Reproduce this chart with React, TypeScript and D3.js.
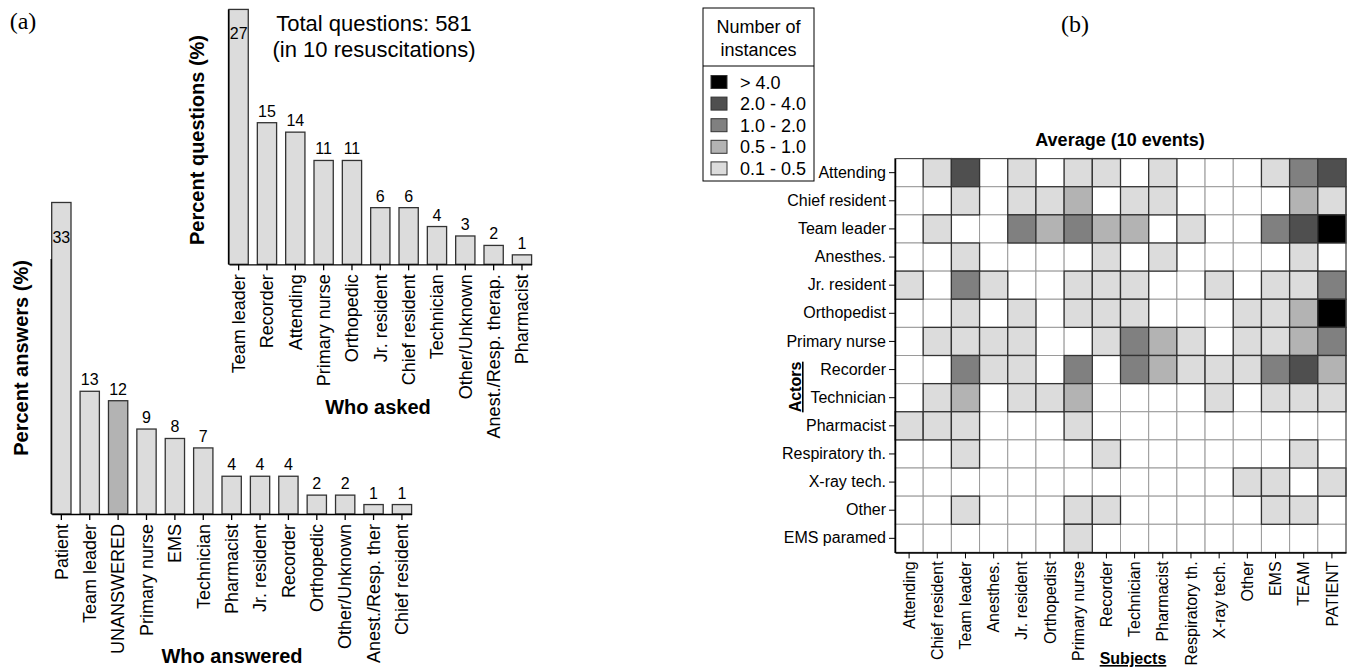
import React, { useEffect, useRef } from 'react';
import * as d3 from 'd3';

// Panel (a), lower chart: who answered
const answeredLabels = ['Patient', 'Team leader', 'UNANSWERED', 'Primary nurse', 'EMS', 'Technician', 'Pharmacist', 'Jr. resident', 'Recorder', 'Orthopedic', 'Other/Unknown', 'Anest./Resp. ther', 'Chief resident'];
const answeredValues = [33, 13, 12, 9, 8, 7, 4, 4, 4, 2, 2, 1, 1];

// Panel (a), upper chart: who asked
const askedLabels = ['Team leader', 'Recorder', 'Attending', 'Primary nurse', 'Orthopedic', 'Jr. resident', 'Chief resident', 'Technician', 'Other/Unknown', 'Anest./Resp. therap.', 'Pharmacist'];
const askedValues = [27, 15, 14, 11, 11, 6, 6, 4, 3, 2, 1];

// Panel (b): heatmap
const actors = ['Attending', 'Chief resident', 'Team leader', 'Anesthes.', 'Jr. resident', 'Orthopedist', 'Primary nurse', 'Recorder', 'Technician', 'Pharmacist', 'Respiratory th.', 'X-ray tech.', 'Other', 'EMS paramed'];
const subjects = ['Attending', 'Chief resident', 'Team leader', 'Anesthes.', 'Jr. resident', 'Orthopedist', 'Primary nurse', 'Recorder', 'Technician', 'Pharmacist', 'Respiratory th.', 'X-ray tech.', 'Other', 'EMS', 'TEAM', 'PATIENT'];
// bin index: 0 none, 1 = 0.1-0.5, 2 = 0.5-1.0, 3 = 1.0-2.0, 4 = 2.0-4.0, 5 = > 4.0
const heatBins = [
  [0, 1, 4, 0, 1, 0, 1, 1, 0, 1, 0, 0, 0, 1, 3, 4],
  [0, 0, 1, 0, 1, 1, 2, 0, 1, 1, 0, 0, 0, 0, 2, 1],
  [0, 1, 0, 0, 3, 2, 3, 2, 2, 0, 1, 0, 0, 3, 4, 5],
  [0, 0, 1, 0, 0, 0, 0, 1, 0, 1, 0, 0, 0, 0, 1, 0],
  [1, 0, 3, 1, 0, 0, 1, 1, 1, 0, 0, 1, 0, 1, 1, 3],
  [0, 0, 1, 0, 1, 0, 1, 1, 1, 0, 0, 0, 1, 1, 2, 5],
  [0, 1, 1, 1, 1, 0, 0, 1, 3, 2, 1, 0, 1, 1, 2, 3],
  [0, 0, 3, 1, 1, 0, 3, 0, 3, 2, 1, 1, 1, 3, 4, 2],
  [0, 1, 2, 0, 1, 1, 2, 0, 0, 0, 0, 1, 0, 1, 1, 1],
  [1, 1, 1, 0, 0, 0, 1, 0, 0, 0, 0, 0, 0, 0, 0, 0],
  [0, 0, 1, 0, 0, 0, 0, 1, 0, 0, 0, 0, 0, 0, 1, 0],
  [0, 0, 0, 0, 0, 0, 0, 0, 0, 0, 0, 0, 1, 1, 0, 1],
  [0, 0, 1, 0, 0, 0, 1, 1, 0, 0, 0, 0, 0, 1, 1, 0],
  [0, 0, 0, 0, 0, 0, 1, 0, 0, 0, 0, 0, 0, 0, 0, 0],
];
const legendBins = [5, 4, 3, 2, 1];
const legendLabels = ['> 4.0', '2.0 - 4.0', '1.0 - 2.0', '0.5 - 1.0', '0.1 - 0.5'];

const SANS = "'Liberation Sans', Arial, sans-serif";
const SERIF = "'Liberation Serif', 'Times New Roman', serif";

function drawBars(svg, labels, values, opts) {
  const x = d3.scaleBand().domain(labels).range([opts.x0, opts.x1]).paddingInner(0.32).paddingOuter(0);
  const y = d3.scaleLinear().domain([0, 27]).range([opts.base, opts.base - 27 * 9.44]);
  const data = labels.map((l, i) => ({ label: l, value: values[i] }));
  const g = svg.append('g');

  g.selectAll('rect.bar')
    .data(data)
    .enter()
    .append('rect')
    .attr('x', (d) => x(d.label))
    .attr('y', (d) => y(d.value))
    .attr('width', x.bandwidth())
    .attr('height', (d) => opts.base - y(d.value))
    .attr('fill', (d) => (d.label === 'UNANSWERED' ? '#b3b3b3' : '#dcdcdc'))
    .attr('stroke', '#333')
    .attr('stroke-width', 1.3);

  // y axis line (no ticks)
  g.append('line')
    .attr('x1', opts.x0 - 0.5)
    .attr('x2', opts.x0 - 0.5)
    .attr('y1', y(0))
    .attr('y2', y(27))
    .attr('stroke', '#000')
    .attr('stroke-width', 1.3);

  const ax = g.append('g')
    .attr('transform', `translate(0,${opts.base})`)
    .call(d3.axisBottom(x).tickSize(6).tickSizeOuter(0));
  ax.select('.domain').attr('stroke-width', 1.3);
  ax.selectAll('line').attr('stroke-width', 1.3);
  ax.selectAll('text')
    .attr('transform', 'rotate(-90)')
    .attr('x', -10)
    .attr('y', 0)
    .attr('dy', '0.35em')
    .style('text-anchor', 'end')
    .style('font-family', SANS)
    .style('font-size', '18px')
    .attr('fill', '#000');

  g.selectAll('text.val')
    .data(data)
    .enter()
    .append('text')
    .attr('x', (d) => x(d.label) + x.bandwidth() / 2)
    .attr('y', (d, i) => (i === 0 ? y(d.value) + opts.inside : y(d.value) - 6))
    .style('text-anchor', 'middle')
    .style('font-family', SANS)
    .style('font-size', '16px')
    .text((d) => d.value);

  svg.append('text')
    .attr('x', opts.xt)
    .attr('y', opts.yt)
    .style('text-anchor', 'middle')
    .style('font-family', SANS)
    .style('font-weight', 'bold')
    .style('font-size', '20px')
    .text(opts.xTitle);

  svg.append('text')
    .attr('transform', `translate(${opts.yx},${opts.yy}) rotate(-90)`)
    .style('text-anchor', 'middle')
    .style('font-family', SANS)
    .style('font-weight', 'bold')
    .style('font-size', '20px')
    .text(opts.yTitle);
}

function App() {
  const ref = useRef(null);

  useEffect(() => {
    const svg = d3.select(ref.current);
    svg.selectAll('*').remove();

    // Panel labels
    svg.append('text').attr('x', 23).attr('y', 29).style('text-anchor', 'middle')
      .style('font-family', SERIF).style('font-size', '24px').text('(a)');
    svg.append('text').attr('x', 1075).attr('y', 32).style('text-anchor', 'middle')
      .style('font-family', SERIF).style('font-size', '24px').text('(b)');

    drawBars(svg, answeredLabels, answeredValues, {
      x0: 51.7, x1: 411.6, base: 514, inside: 41,
      xTitle: 'Who answered', xt: 232, yt: 663,
      yTitle: 'Percent answers (%)', yx: 28, yy: 358,
    });

    drawBars(svg, askedLabels, askedValues, {
      x0: 229, x1: 531.6, base: 264.3, inside: 30,
      xTitle: 'Who asked', xt: 378, yt: 414,
      yTitle: 'Percent questions (%)', yx: 204, yy: 140,
    });

    svg.append('text').attr('x', 374).attr('y', 31).style('text-anchor', 'middle')
      .style('font-family', SANS).style('font-size', '22px').text('Total questions: 581');
    svg.append('text').attr('x', 374).attr('y', 57).style('text-anchor', 'middle')
      .style('font-family', SANS).style('font-size', '22px').text('(in 10 resuscitations)');

    // Heatmap
    const colors = ['#ffffff', '#dcdcdc', '#b3b3b3', '#808080', '#4f4f4f', '#000000'];
    const xH = d3.scaleBand().domain(subjects).range([895, 1346]);
    const yH = d3.scaleBand().domain(actors).range([158.6, 552.4]);
    const cells = [];
    actors.forEach((a, r) => subjects.forEach((s, c) => cells.push({ a, s, bin: heatBins[r][c] })));

    const hg = svg.append('g');
    hg.selectAll('rect.empty')
      .data(cells.filter((d) => d.bin === 0))
      .enter()
      .append('rect')
      .attr('x', (d) => xH(d.s))
      .attr('y', (d) => yH(d.a))
      .attr('width', xH.bandwidth())
      .attr('height', yH.bandwidth())
      .attr('fill', '#fff')
      .attr('stroke', '#9a9a9a')
      .attr('stroke-width', 1);
    hg.selectAll('rect.full')
      .data(cells.filter((d) => d.bin > 0))
      .enter()
      .append('rect')
      .attr('x', (d) => xH(d.s))
      .attr('y', (d) => yH(d.a))
      .attr('width', xH.bandwidth())
      .attr('height', yH.bandwidth())
      .attr('fill', (d) => colors[d.bin])
      .attr('stroke', '#333')
      .attr('stroke-width', 1.3);
    hg.append('rect')
      .attr('x', 895).attr('y', 158.6).attr('width', 451).attr('height', 393.8)
      .attr('fill', 'none').attr('stroke', '#444').attr('stroke-width', 1);

    const yAx = hg.append('g').attr('transform', 'translate(895,0)')
      .call(d3.axisLeft(yH).tickSize(6).tickSizeOuter(0));
    yAx.select('.domain').attr('stroke-width', 1.5);
    yAx.selectAll('text').style('font-family', SANS).style('font-size', '16px').attr('fill', '#000');

    const xAx = hg.append('g').attr('transform', 'translate(0,552.4)')
      .call(d3.axisBottom(xH).tickSize(6).tickSizeOuter(0));
    xAx.select('.domain').attr('stroke-width', 1.5);
    xAx.selectAll('text')
      .attr('transform', 'rotate(-90)')
      .attr('x', -9)
      .attr('y', 0)
      .attr('dy', '0.35em')
      .style('text-anchor', 'end')
      .style('font-family', SANS)
      .style('font-size', '16px')
      .attr('fill', '#000');

    svg.append('text').attr('x', 1120).attr('y', 146).style('text-anchor', 'middle')
      .style('font-family', SANS).style('font-weight', 'bold').style('font-size', '18px')
      .text('Average (10 events)');
    svg.append('text').attr('x', 1133).attr('y', 664).style('text-anchor', 'middle')
      .style('font-family', SANS).style('font-weight', 'bold').style('font-size', '16px')
      .style('text-decoration', 'underline').text('Subjects');
    svg.append('text').attr('transform', 'translate(801,387) rotate(-90)').style('text-anchor', 'middle')
      .style('font-family', SANS).style('font-weight', 'bold').style('font-size', '16px')
      .style('text-decoration', 'underline').text('Actors');

    // Legend
    const lg = svg.append('g');
    lg.append('rect').attr('x', 703).attr('y', 8).attr('width', 111).attr('height', 173)
      .attr('fill', '#fff').attr('stroke', '#000').attr('stroke-width', 1);
    lg.append('line').attr('x1', 703).attr('x2', 814).attr('y1', 66).attr('y2', 66)
      .attr('stroke', '#000').attr('stroke-width', 1);
    lg.append('text').attr('x', 758.5).attr('y', 33).style('text-anchor', 'middle')
      .style('font-family', SANS).style('font-size', '18px').text('Number of');
    lg.append('text').attr('x', 758.5).attr('y', 56).style('text-anchor', 'middle')
      .style('font-family', SANS).style('font-size', '18px').text('instances');
    legendBins.forEach((b, i) => {
      const cy = 82 + i * 21.6;
      lg.append('rect').attr('x', 711).attr('y', cy - 6.5).attr('width', 16).attr('height', 13)
        .attr('fill', colors[b]).attr('stroke', '#333').attr('stroke-width', 1);
      lg.append('text').attr('x', 740).attr('y', cy + 6.5)
        .style('font-family', SANS).style('font-size', '18px').text(legendLabels[i]);
    });
  }, []);

  return (
    <svg
      ref={ref}
      width={1350}
      height={668}
      style={{ position: 'absolute', left: 0, top: 0, background: '#fff' }}
    />
  );
}

export default App;
